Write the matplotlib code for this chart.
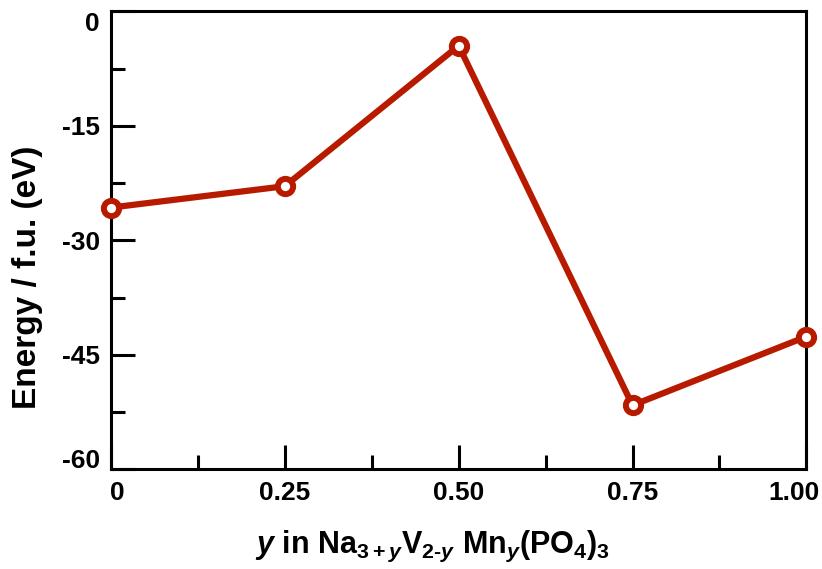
import matplotlib.pyplot as plt
import matplotlib.transforms as mtransforms
from matplotlib.ticker import MultipleLocator

plt.rcParams['font.family'] = 'Liberation Sans'
plt.rcParams['font.weight'] = 'bold'
plt.rcParams['axes.unicode_minus'] = False
plt.rcParams['mathtext.fontset'] = 'custom'
plt.rcParams['mathtext.rm'] = 'Liberation Sans:bold'
plt.rcParams['mathtext.it'] = 'Liberation Sans:bold:italic'
plt.rcParams['mathtext.bf'] = 'Liberation Sans:bold'

y_content = [0, 0.25, 0.50, 0.75, 1.00]
energy = [-25.7, -22.9, -4.5, -51.6, -42.6]
x_ticks = [0, 0.25, 0.50, 0.75, 1.00]
x_labels = ['0', '0.25', '0.50', '0.75', '1.00']
y_ticks = [0, -15, -30, -45, -60]

red = '#b81a00'

fig = plt.figure(figsize=(8.22, 5.69), dpi=100)
ax = fig.add_axes([0.135, 0.175, 0.846, 0.805])

ax.plot(y_content, energy, color=red, lw=4.5, marker='o', ms=11,
        mfc='white', mec=red, mew=4.3, clip_on=False, zorder=3)

ax.set_xlim(0, 1)
ax.set_ylim(-60, 0)
ax.set_xticks(x_ticks)
ax.set_xticklabels(x_labels)
ax.set_yticks(y_ticks)
ax.xaxis.set_minor_locator(MultipleLocator(0.125))
ax.yaxis.set_minor_locator(MultipleLocator(7.5))

ax.tick_params(which='both', direction='in', width=2.2, labelsize=19)
ax.tick_params(which='major', length=17)
ax.tick_params(which='minor', length=10)
ax.tick_params(axis='x', pad=8)
ax.tick_params(axis='y', pad=8)
for s in ax.spines.values():
    s.set_linewidth(2.2)

# nudge the end labels inward like the original
xl = ax.get_xticklabels()
xl[0].set_transform(xl[0].get_transform() + mtransforms.ScaledTranslation(6 / 100, 0, fig.dpi_scale_trans))
xl[-1].set_transform(xl[-1].get_transform() + mtransforms.ScaledTranslation(-12 / 100, 0, fig.dpi_scale_trans))
yl = ax.get_yticklabels()
yl[0].set_transform(yl[0].get_transform() + mtransforms.ScaledTranslation(0, -10 / 100, fig.dpi_scale_trans))
yl[-1].set_transform(yl[-1].get_transform() + mtransforms.ScaledTranslation(0, 11 / 100, fig.dpi_scale_trans))

ax.set_ylabel('Energy / f.u. (eV)', fontsize=24, fontweight='bold')
ax.yaxis.set_label_coords(-0.098, 0.42)
ax.set_xlabel(r'$y$ in Na$_{3+y}$V$_{2\text{-}y}$ Mn$_y$(PO$_4$)$_3$',
              fontsize=22, fontweight='bold')
ax.xaxis.set_label_coords(0.462, -0.13)

fig.savefig('out.png', dpi=100)
